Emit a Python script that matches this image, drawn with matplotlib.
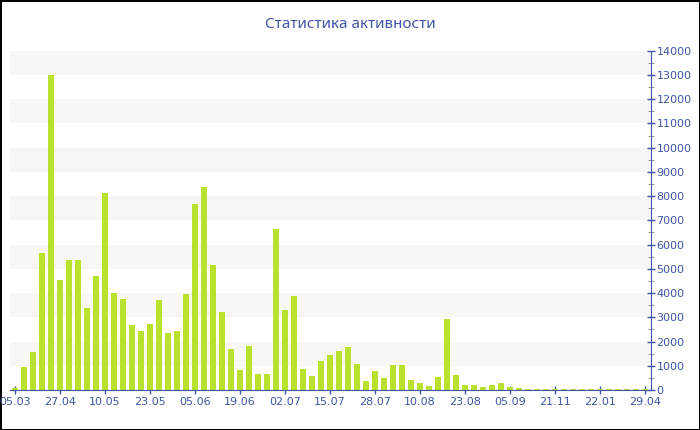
import matplotlib
matplotlib.use("Agg")
import matplotlib.pyplot as plt
import numpy as np

title = "Статистика активности"
tick_labels = ["05.03", "27.04", "10.05", "23.05", "05.06", "19.06", "02.07", "15.07",
               "28.07", "10.08", "23.08", "05.09", "21.11", "22.01", "29.04"]
values = [80, 950, 1550, 5650, 13000, 4540, 5350, 5350, 3380, 4700,
          8140, 3990, 3770, 2670, 2430, 2740, 3710, 2340, 2420, 3970,
          7670, 8370, 5140, 3220, 1690, 830, 1810, 650, 670, 6650,
          3290, 3860, 850, 590, 1200, 1460, 1610, 1770, 1090, 370,
          770, 500, 1030, 1030, 430, 300, 170, 520, 2930, 630,
          220, 190, 120, 220, 270, 120, 85, 55, 40, 40,
          40, 40, 40, 40, 40, 40, 40, 40, 40, 40, 40]

blue = "#3f55a5"
bar_color = "#bae12e"

fig = plt.figure(figsize=(7, 4.3), dpi=100)
fig.patch.set_edgecolor("black")
fig.patch.set_linewidth(2)
ax = fig.add_axes([10/700, 40/430, 641/700, 339.3/430])

x = np.arange(len(values))
ax.set_xlim(-0.556, 70.67)
ax.set_ylim(0, 14000)

# alternating bands
for lo in range(1000, 14000, 2000):
    ax.axhspan(lo, lo + 1000, color="#f7f7f7", lw=0, zorder=0)

ax.bar(x, values, width=0.72, color=bar_color, zorder=2)

ax.yaxis.tick_right()
ax.set_yticks(np.arange(0, 14001, 1000))
ax.set_yticks(np.arange(500, 14000, 1000), minor=True)
ax.set_xticks(np.arange(0, 71, 5))
ax.set_xticklabels(tick_labels)
ax.tick_params(axis="both", colors=blue, labelsize=8, direction="inout", length=6, width=1, pad=1)
ax.tick_params(axis="y", which="minor", colors="#888888", length=4, direction="inout")
ax.tick_params(axis="x", pad=2)

for s in ["top", "left"]:
    ax.spines[s].set_visible(False)
ax.spines["right"].set_color(blue)
ax.spines["bottom"].set_color(blue)

fig.text(0.5, 1 - 25/430, title, ha="center", va="center", color=blue,
         fontsize=11, family="Noto Sans")

fig.savefig("out.png", dpi=100, edgecolor=fig.get_edgecolor())
